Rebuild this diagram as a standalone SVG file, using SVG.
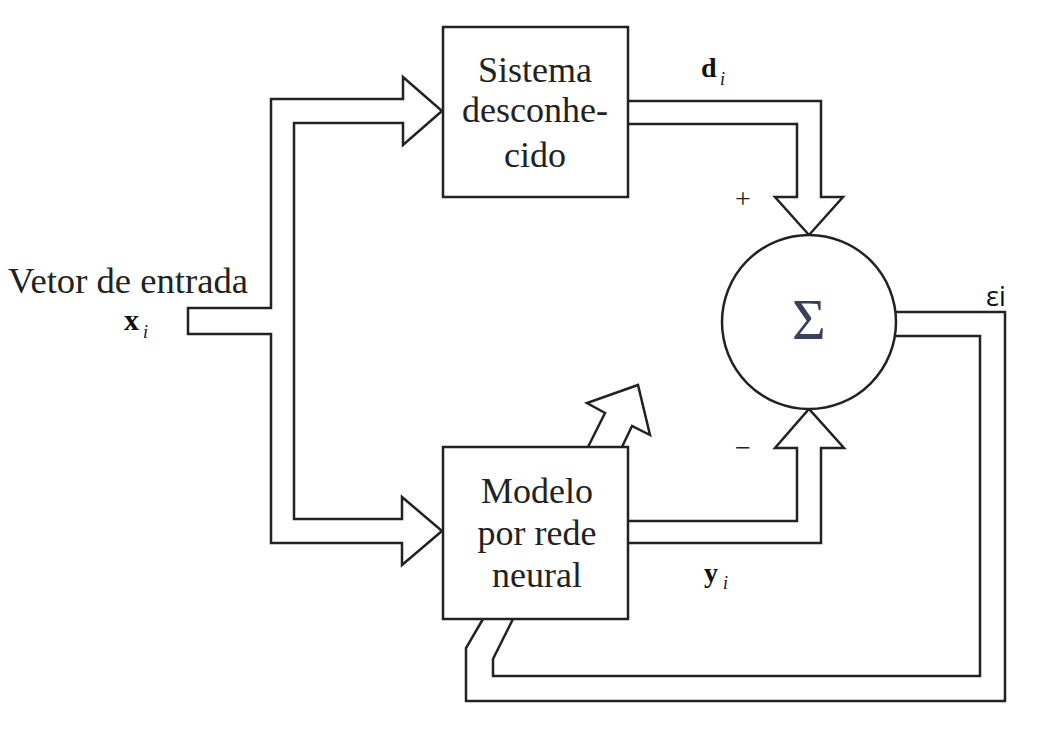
<svg xmlns="http://www.w3.org/2000/svg" width="1037" height="747" viewBox="0 0 1037 747">
<style>
.ln{fill:none;stroke:#222;stroke-width:2.5;stroke-linejoin:miter}
.box{fill:#fff;stroke:#222;stroke-width:2.5}
.t{font-family:"Liberation Serif","Times New Roman",serif;fill:#222}
.lab{font-family:"Liberation Serif","Times New Roman",serif;fill:#111;font-weight:bold}
.sub{font-family:"Liberation Serif","Times New Roman",serif;font-style:italic;fill:#111}
</style>
<rect width="1037" height="747" fill="#fff"/>
<g id="connectors">
<path class="ln" d="M188,308 H271 V99 H403 V77 L442,111 L403,145 V123 H294 V519 H402 V497 L442,531 L402,565 V543 H271 V334 H188 Z"/>
<path class="ln" d="M628,101 H821 V197 H843 L809,235 L775,197 H797 V124 H628"/>
<path class="ln" d="M628,543 H821 V448 H844 L809,409 L775,448 H797 V521 H628"/>
<path class="ln" d="M895,312 H1005 V701 H466 V648 L483,619"/>
<path class="ln" d="M513,619 L493,659 V676 H980 V336 H895"/>
<path class="ln" d="M588,447 L605,413 L587,403 L638,385 L650,435 L632,426 L622,447"/>
</g>
<g id="sistema">
<rect class="box" x="443" y="27" width="185" height="170"/>
<text class="t" font-size="36" text-anchor="middle" x="535" y="82">Sistema</text>
<text class="t" font-size="36" text-anchor="middle" x="535" y="122">desconhe-</text>
<text class="t" font-size="36" text-anchor="middle" x="535" y="167">cido</text>
</g>
<g id="modelo">
<rect class="box" x="443" y="447" width="185" height="172"/>
<text class="t" font-size="36" text-anchor="middle" x="537" y="503">Modelo</text>
<text class="t" font-size="36" text-anchor="middle" x="537" y="545">por rede</text>
<text class="t" font-size="36" text-anchor="middle" x="537" y="587">neural</text>
</g>
<g id="soma">
<circle class="box" cx="809" cy="322" r="87"/>
<text class="t" font-size="58" text-anchor="middle" x="809" y="339" style="fill:#3a3f5c">Σ</text>
</g>
<g id="labels">
<text class="t" font-size="35" x="8" y="293" textLength="240" lengthAdjust="spacingAndGlyphs">Vetor de entrada</text>
<text class="lab" font-size="30" x="124" y="330">x</text><text class="sub" font-size="18" x="143" y="338">i</text>
<text class="lab" font-size="28" x="701" y="77">d</text><text class="sub" font-size="18" x="720" y="85">i</text>
<text class="lab" font-size="28" x="704" y="582">y</text><text class="sub" font-size="18" x="723" y="589">i</text>
<text class="t" font-size="28" text-anchor="middle" x="743" y="208">+</text>
<text class="t" font-size="28" text-anchor="middle" x="743" y="457">−</text>
<text font-family="Open Sans, Noto Sans, sans-serif" font-size="27" fill="#111" x="986" y="306">εi</text>
</g>
</svg>
